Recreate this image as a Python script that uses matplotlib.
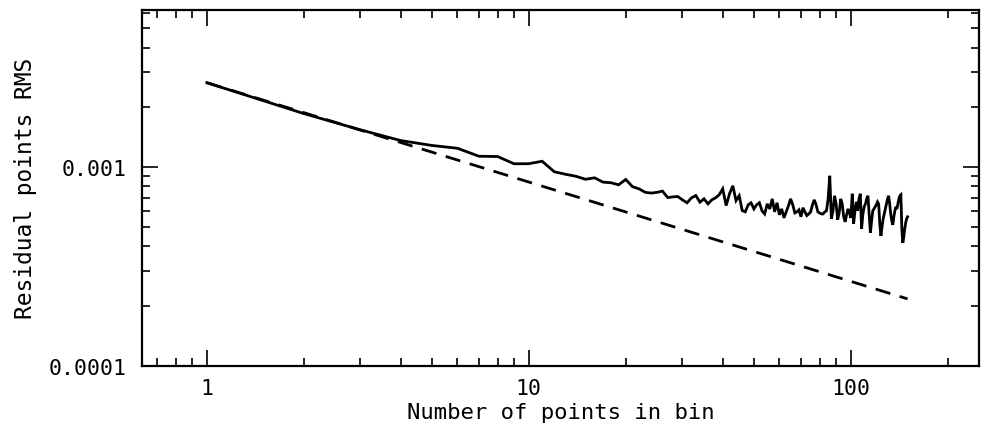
import matplotlib
matplotlib.use("Agg")
import matplotlib.pyplot as plt
from matplotlib.ticker import LogLocator, NullFormatter

plt.rcParams['font.family'] = ['DejaVu Sans Mono', 'DejaVu Sans']

# points per bin and the rms of the binned residuals
n_bin = list(range(1, 151))
rms_e3 = [
    2.66, 1.86, 1.54, 1.36, 1.285, 1.244, 1.134, 1.13, 1.039, 1.04,
    1.07, 0.947, 0.92, 0.899, 0.868, 0.883, 0.84, 0.834, 0.814, 0.866,
    0.796, 0.777, 0.746, 0.74, 0.746, 0.757, 0.702, 0.708, 0.711, 0.684,
    0.661, 0.70, 0.719, 0.666, 0.692, 0.653, 0.684, 0.70, 0.725, 0.777,
    0.64, 0.734, 0.805, 0.678, 0.717, 0.604, 0.595, 0.646, 0.661, 0.616,
    0.646, 0.661, 0.602, 0.581, 0.653, 0.616, 0.692, 0.595, 0.661, 0.575,
    0.616, 0.555, 0.595, 0.638, 0.692, 0.646, 0.588, 0.595, 0.609, 0.562,
    0.624, 0.595, 0.57, 0.581, 0.595, 0.646, 0.684, 0.646, 0.595, 0.588,
    0.581, 0.581, 0.595, 0.602, 0.692, 0.904, 0.549, 0.602, 0.717, 0.653,
    0.543, 0.588, 0.692, 0.653, 0.562, 0.53, 0.575, 0.616, 0.588, 0.555,
    0.734, 0.518, 0.602, 0.668, 0.602, 0.692, 0.734, 0.489, 0.581, 0.631,
    0.653, 0.692, 0.717, 0.581, 0.467, 0.536, 0.602, 0.616, 0.631, 0.646,
    0.668, 0.653, 0.518, 0.45, 0.50, 0.549, 0.581, 0.616, 0.653, 0.692,
    0.717, 0.653, 0.581, 0.536, 0.512, 0.562, 0.602, 0.631, 0.616, 0.653,
    0.692, 0.717, 0.725, 0.489, 0.415, 0.445, 0.489, 0.524, 0.549, 0.562,
]
rms = [v * 1e-3 for v in rms_e3]

# white-noise expectation (straight line in log-log)
white_n = [1, 150]
white_rms = [2.66e-3, 0.217e-3]

x_ticks = [1, 10, 100]
x_ticklabels = ['1', '10', '100']
y_ticks = [1e-4, 1e-3]
y_ticklabels = ['0.0001', '0.001']

fig = plt.figure(figsize=(9.85, 4.35), dpi=100)
ax = fig.add_axes([0.1439, 0.157, 0.85, 0.8184])

ax.plot(n_bin, rms, color='black', lw=2.0, solid_joinstyle='miter')
ax.plot(white_n, white_rms, color='black', lw=2.0, dashes=(5.5, 3.5))

ax.set_xscale('log')
ax.set_yscale('log')
ax.set_xlim(0.628, 250)
ax.set_ylim(1e-4, 6.2e-3)

ax.set_xticks(x_ticks)
ax.set_xticklabels(x_ticklabels)
ax.set_yticks(y_ticks)
ax.set_yticklabels(y_ticklabels)
ax.xaxis.set_minor_locator(LogLocator(base=10, subs=range(2, 10)))
ax.yaxis.set_minor_locator(LogLocator(base=10, subs=range(2, 10)))
ax.xaxis.set_minor_formatter(NullFormatter())
ax.yaxis.set_minor_formatter(NullFormatter())

ax.tick_params(which='both', direction='in', top=True, right=True, width=1.2)
ax.tick_params(which='major', length=11.5, labelsize=15.5)
ax.tick_params(which='minor', length=5.8)
ax.tick_params(axis='x', which='major', pad=9)
ax.tick_params(axis='y', which='major', pad=11)

for sp in ax.spines.values():
    sp.set_linewidth(1.6)

ax.set_xlabel('Number of points in bin', fontsize=16, va='center')
ax.set_ylabel('Residual points RMS', fontsize=16.5, va='center')
ax.xaxis.set_label_coords(0.5, -0.13)
ax.yaxis.set_label_coords(-0.139, 0.5)

fig.savefig('out.png', dpi=100)
